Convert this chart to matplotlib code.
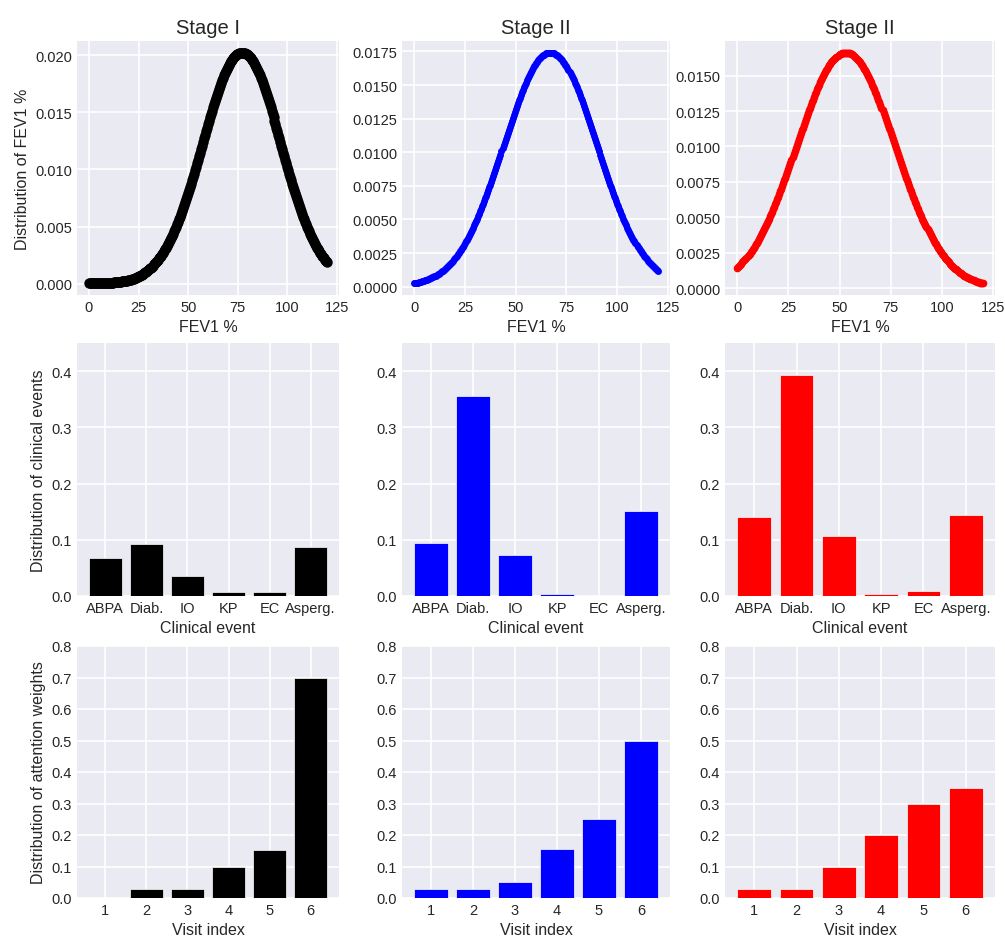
import numpy as np
import matplotlib
matplotlib.use("Agg")
import matplotlib.pyplot as plt

plt.style.use('seaborn-v0_8-darkgrid')
plt.rcParams['font.family'] = ['Liberation Sans', 'DejaVu Sans']
plt.rcParams['grid.linewidth'] = 1.2

stage_titles = ['Stage I', 'Stage II', 'Stage II']
colors = ['black', 'blue', 'red']
fev1_mean = [77.0, 67.0, 53.0]
fev1_sd = [19.7, 22.9, 24.0]
marker_size = [7.5, 5.0, 5.5]

# clinical events
events = ['ABPA', 'Diab.', 'IO', 'KP', 'EC', 'Asperg.']
events_stage1 = [0.068, 0.093, 0.036, 0.007, 0.007, 0.087]
events_stage2 = [0.095, 0.356, 0.073, 0.004, 0.0, 0.152]
events_stage3 = [0.141, 0.393, 0.107, 0.004, 0.0095, 0.144]

# attention weights per visit
visits = [1, 2, 3, 4, 5, 6]
attn_stage1 = [0.0, 0.028, 0.028, 0.10, 0.153, 0.70]
attn_stage2 = [0.028, 0.028, 0.05, 0.154, 0.25, 0.50]
attn_stage3 = [0.028, 0.028, 0.10, 0.20, 0.30, 0.35]

event_vals = [events_stage1, events_stage2, events_stage3]
attn_vals = [attn_stage1, attn_stage2, attn_stage3]

W, H = 1005, 937
fig = plt.figure(figsize=(W / 100, H / 100), dpi=100)

col_x = [(77, 339), (402, 670), (725, 995)]
row_y = [(42, 296), (344, 597), (647, 899)]


def make_ax(r, c):
    x0, x1 = col_x[c]
    y0, y1 = row_y[r]
    return fig.add_axes([x0 / W, 1 - y1 / H, (x1 - x0) / W, (y1 - y0) / H])


tick_fs = 10.5
label_fs = 11.5

fev1 = np.arange(0, 120.5, 0.5)
for c in range(3):
    # row 1: FEV1 density
    ax = make_ax(0, c)
    pdf = np.exp(-0.5 * ((fev1 - fev1_mean[c]) / fev1_sd[c]) ** 2) / (fev1_sd[c] * np.sqrt(2 * np.pi))
    ax.plot(fev1, pdf, 'o', color=colors[c], ms=marker_size[c], mew=0)
    ax.set_title(stage_titles[c], fontsize=14.5)
    ax.set_xlabel('FEV1 %', fontsize=label_fs)
    ax.set_xticks([0, 25, 50, 75, 100, 125])
    ax.tick_params(labelsize=tick_fs)
    if c == 0:
        ax.set_ylabel('Distribution of FEV1 %', fontsize=label_fs)

    # row 2: clinical events
    ax = make_ax(1, c)
    xs = np.arange(len(events))
    ax.bar(xs, event_vals[c], color=colors[c], width=0.8, edgecolor='white', linewidth=0.5)
    ax.set_xticks(xs)
    ax.set_xticklabels(events)
    ax.set_ylim(0, 0.45)
    ax.set_yticks([0.0, 0.1, 0.2, 0.3, 0.4])
    ax.set_xlabel('Clinical event', fontsize=label_fs)
    ax.tick_params(labelsize=tick_fs)
    if c == 0:
        ax.set_ylabel('Distribution of clinical events', fontsize=label_fs)

    # row 3: attention weights
    ax = make_ax(2, c)
    ax.bar(visits, attn_vals[c], color=colors[c], width=0.8, edgecolor='white', linewidth=0.5)
    ax.set_xticks(visits)
    ax.set_ylim(0, 0.8)
    ax.set_xlabel('Visit index', fontsize=label_fs)
    ax.tick_params(labelsize=tick_fs)
    if c == 0:
        ax.set_ylabel('Distribution of attention weights', fontsize=label_fs)

fig.savefig('out.png', dpi=100)
